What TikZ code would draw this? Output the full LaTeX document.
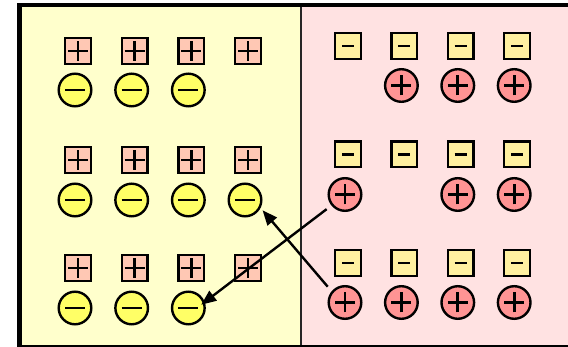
\documentclass[tikz,border=0pt]{standalone}
\usetikzlibrary{arrows.meta}
\definecolor{leftbg}{HTML}{FFFFCC}
\definecolor{rightbg}{HTML}{FFE2E2}
\definecolor{sqpos}{HTML}{FFC8B4}
\definecolor{sqneg}{HTML}{FFF0A0}
\definecolor{cineg}{HTML}{FFFF66}
\definecolor{cipos}{HTML}{FF9494}
\tikzset{
  sq/.style={rectangle, draw=black, line width=2.4pt, minimum size=25.6pt, inner sep=0pt},
  ci/.style={circle, draw=black, line width=2.4pt, minimum size=32.6pt, inner sep=0pt},
  hbar/.style={line width=2.7pt, line cap=butt},
  possq/.style={sq, fill=sqpos, path picture={
      \draw[hbar] ([xshift=-10pt]path picture bounding box.center) -- ([xshift=10pt]path picture bounding box.center);
      \draw[hbar] ([yshift=-10pt]path picture bounding box.center) -- ([yshift=10pt]path picture bounding box.center);}},
  negsq/.style={sq, fill=sqneg, path picture={
      \draw[hbar] ([xshift=-6pt]path picture bounding box.center) -- ([xshift=6pt]path picture bounding box.center);}},
  negci/.style={ci, fill=cineg, path picture={
      \draw[hbar] ([xshift=-10pt]path picture bounding box.center) -- ([xshift=10pt]path picture bounding box.center);}},
  posci/.style={ci, fill=cipos, path picture={
      \draw[hbar] ([xshift=-10pt]path picture bounding box.center) -- ([xshift=10pt]path picture bounding box.center);
      \draw[hbar] ([yshift=-10pt]path picture bounding box.center) -- ([yshift=10pt]path picture bounding box.center);}},
  conn/.style={line width=2.4pt, -{Triangle[length=15pt,width=12pt]}}
}
\begin{document}
\begin{tikzpicture}[x=1pt,y=-1pt]
\useasboundingbox (0,0) rectangle (568,347);
% two panels
\fill[leftbg] (22,7) rectangle (301,345.5);
\fill[rightbg] (301,7) rectangle (568,345.5);
\draw[line width=1.8pt, black!85] (301,7) -- (301,345.5);
% frame
\draw[line width=3.5pt] (17,5) -- (568,5);
\draw[line width=5pt] (19.5,3.2) -- (19.5,347);
\draw[line width=1.5pt] (17,346.2) -- (568,346.2);

% left panel: fixed positive squares
\foreach \r/\y in {1/51,2/160,3/268}
  \foreach \c/\x in {1/78,2/134.7,3/191.3,4/248}
    \node[possq] (lsq-\r-\c) at (\x,\y) {};
% left panel: negative charges
\foreach \r/\y/\cs in {1/90/{1,2,3},2/200/{1,2,3,4},3/308/{1,2,3}}
  \foreach \c in \cs
    \node[negci] (lci-\r-\c) at ({75+56.67*(\c-1)},\y) {};

% right panel: fixed negative squares
\foreach \r/\y in {1/46,2/154.5,3/263}
  \foreach \c/\x in {1/348,2/404.3,3/460.7,4/517}
    \node[negsq] (rsq-\r-\c) at (\x,\y) {};
% right panel: positive charges
\foreach \r/\y/\cs in {1/85.5/{2,3,4},2/194.5/{1,3,4},3/302.5/{1,2,3,4}}
  \foreach \c in \cs
    \node[posci] (rci-\r-\c) at ({345+56.4*(\c-1)},\y) {};

% carriers crossing the junction
\draw[conn, shorten <=6pt, shorten >=3pt] (rci-3-1.140) -- (lci-2-4.-27);
\draw[conn, shorten <=6pt, shorten >=-4.5pt] (rci-2-1.219) -- (lci-3-3.20);
\end{tikzpicture}
\end{document}
